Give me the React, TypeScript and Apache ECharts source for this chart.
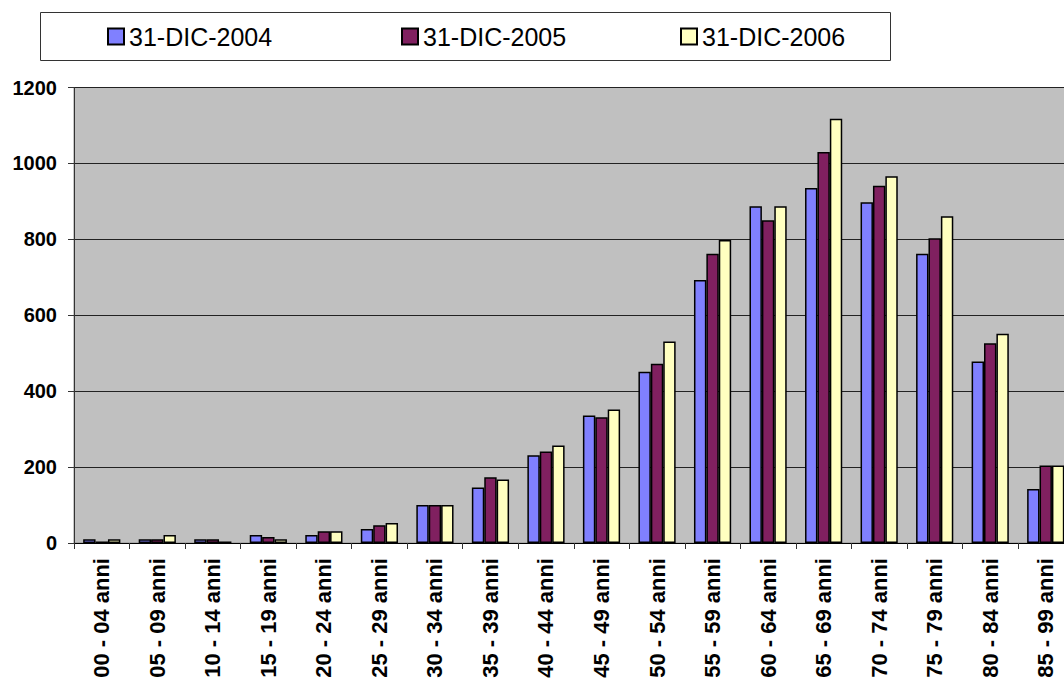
import React, { useEffect, useRef } from "react";
import * as echarts from "echarts";

// Age bands (years)
const ageBands = [
  "00 - 04 anni", "05 - 09 anni", "10 - 14 anni", "15 - 19 anni",
  "20 - 24 anni", "25 - 29 anni", "30 - 34 anni", "35 - 39 anni",
  "40 - 44 anni", "45 - 49 anni", "50 - 54 anni", "55 - 59 anni",
  "60 - 64 anni", "65 - 69 anni", "70 - 74 anni", "75 - 79 anni",
  "80 - 84 anni", "85 - 99 anni",
];

const seriesNames = ["31-DIC-2004", "31-DIC-2005", "31-DIC-2006"];

const values2004 = [10, 10, 10, 21, 21, 37, 100, 146, 231, 336, 451, 693, 887, 935, 898, 762, 478, 142];
const values2005 = [4, 10, 10, 16, 31, 47, 100, 173, 241, 331, 472, 762, 850, 1030, 941, 803, 526, 204];
const values2006 = [10, 21, 4, 10, 31, 53, 100, 167, 257, 352, 531, 798, 887, 1118, 966, 861, 551, 204];

const yTicks = { min: 0, max: 1200, interval: 200 };

const colors = ["#8080FF", "#802060", "#FFFFC0"];
const legendLeft = [107, 401, 680];

const FONT = "'Liberation Sans', Arial, Helvetica, sans-serif";

export default function App() {
  const ref = useRef<HTMLDivElement>(null);

  useEffect(() => {
    if (!ref.current) return;
    const chart = echarts.init(ref.current, undefined, { renderer: "svg" });
    const allValues = [values2004, values2005, values2006];

    chart.setOption({
      animation: false,
      backgroundColor: "#ffffff",
      graphic: [
        {
          type: "rect",
          shape: { x: 40.5, y: 12.5, width: 850, height: 48 },
          style: { fill: "#ffffff", stroke: "#333333", lineWidth: 1 },
          z: -1,
        },
      ],
      legend: seriesNames.map((name, i) => ({
        data: [name],
        left: legendLeft[i],
        top: 24,
        padding: 0,
        icon: "rect",
        itemWidth: 16,
        itemHeight: 16,
        textStyle: { fontFamily: FONT, fontSize: 25, color: "#000" },
      })),
      grid: {
        left: 74,
        top: 87.5,
        right: -9.5,
        bottom: 136,
        containLabel: false,
        outerBoundsMode: "none",
        show: true,
        backgroundColor: "#C0C0C0",
        borderColor: "#909090",
        borderWidth: 1,
      },
      xAxis: {
        type: "category",
        data: ageBands,
        axisLine: { show: true, lineStyle: { color: "#000", width: 1 } },
        axisTick: { show: true, length: 6, lineStyle: { color: "#333" } },
        axisLabel: {
          interval: 0,
          rotate: 90,
          margin: 15,
          fontFamily: FONT,
          fontSize: 22,
          fontWeight: "bold",
          color: "#000",
        },
        splitLine: { show: false },
      },
      yAxis: {
        type: "value",
        min: yTicks.min,
        max: yTicks.max,
        interval: yTicks.interval,
        axisLine: { show: true, lineStyle: { color: "#333", width: 1 } },
        axisTick: { show: true, length: 6, lineStyle: { color: "#333" } },
        axisLabel: {
          margin: 17,
          fontFamily: FONT,
          fontSize: 20,
          fontWeight: "bold",
          color: "#000",
          formatter: (v: number) => String(v),
        },
        splitLine: { show: true, lineStyle: { color: "#222", width: 1 } },
      },
      series: seriesNames.map((name, i) => ({
        name,
        type: "bar",
        data: allValues[i],
        barGap: "0%",
        barCategoryGap: "33%",
        itemStyle: { color: colors[i], borderColor: "#000", borderWidth: 1.5 },
      })),
    });

    return () => chart.dispose();
  }, []);

  return (
    <div
      style={{
        position: "fixed",
        left: 0,
        top: 0,
        width: 1064,
        height: 679,
        overflow: "hidden",
        background: "#fff",
      }}
    >
      <div ref={ref} style={{ width: 1064, height: 679 }} />
    </div>
  );
}
